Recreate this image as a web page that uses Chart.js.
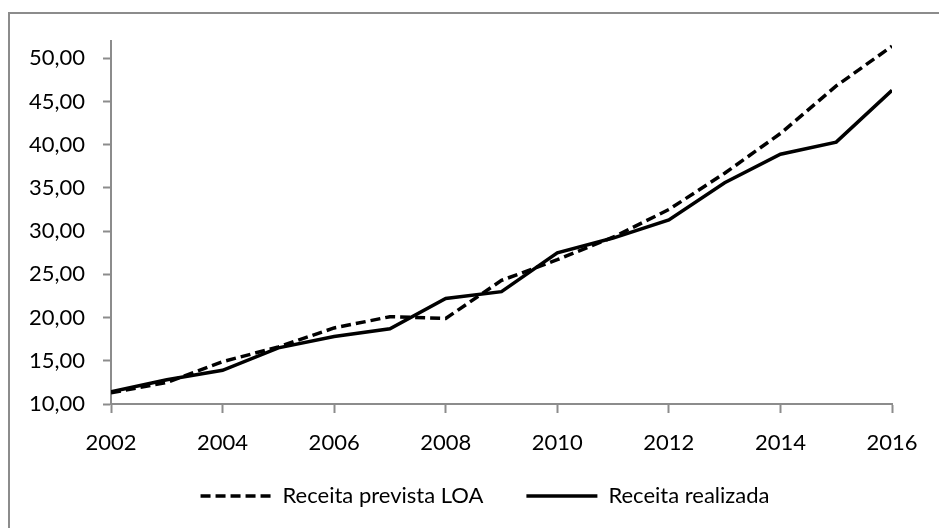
<!DOCTYPE html>
<html lang="pt-br">
<head>
    <meta charset="UTF-8">
    <title>Receita prevista x realizada</title>
    <script src="https://cdn.jsdelivr.net/npm/chart.js"></script>
    <style>
        body {
            margin: 0;
            background: #fff;
        }
        .frame {
            position: absolute;
            left: 8px;
            top: 12px;
            width: 929px;
            height: 516px;
            border-left: 2px solid #8c8c8c;
            border-top: 2px solid #8c8c8c;
        }
        .frame canvas {
            display: block;
        }
    </style>
</head>
<body>
    <div class="frame">
        <canvas id="chart" width="929" height="514"></canvas>
    </div>

    <script>
        // Anos e valores
        const anos = [2002, 2003, 2004, 2005, 2006, 2007, 2008, 2009, 2010, 2011, 2012, 2013, 2014, 2015, 2016];
        const receitaPrevista = [11.3, 12.5, 14.9, 16.6, 18.8, 20.1, 19.9, 24.3, 26.7, 29.3, 32.5, 36.7, 41.3, 46.8, 51.4];
        const receitaRealizada = [11.4, 12.8, 13.9, 16.5, 17.8, 18.7, 22.2, 23.0, 27.5, 29.2, 31.3, 35.6, 38.9, 40.3, 46.3];
        const yTicks = [10, 15, 20, 25, 30, 35, 40, 45, 50];

        const eixoCor = "#8c8c8c";
        const fonte = { family: "Lato", size: 22 };

        const pontos = serie => anos.map((ano, i) => ({ x: ano, y: serie[i] }));

        // desloca a legenda para ficar como no original (mais à direita e mais perto do eixo)
        const ajusteLegenda = {
            id: "ajusteLegenda",
            afterLayout(chart) {
                const lg = chart.legend;
                lg.left += 34;
                lg.right += 34;
                lg.top -= 15;
                lg.bottom -= 15;
            }
        };

        new Chart(document.getElementById("chart"), {
            type: "line",
            data: {
                datasets: [
                    {
                        label: "Receita prevista LOA",
                        data: pontos(receitaPrevista),
                        borderColor: "#000",
                        backgroundColor: "#000",
                        borderWidth: 3.5,
                        borderDash: [10, 5],
                        pointRadius: 0,
                        tension: 0
                    },
                    {
                        label: "Receita realizada",
                        data: pontos(receitaRealizada),
                        borderColor: "#000",
                        backgroundColor: "#000",
                        borderWidth: 3.5,
                        pointRadius: 0,
                        tension: 0
                    }
                ]
            },
            plugins: [ajusteLegenda],
            options: {
                responsive: false,
                animation: false,
                layout: {
                    padding: { left: 0, right: 47, top: 27, bottom: 1 }
                },
                plugins: {
                    tooltip: { enabled: false },
                    legend: {
                        position: "bottom",
                        maxHeight: 70,
                        labels: {
                            color: "#000",
                            font: fonte,
                            usePointStyle: true,
                            pointStyle: "line",
                            pointStyleWidth: 71,
                            padding: 43,
                            // a amostra da legenda precisa do tracejado da série
                            generateLabels: chart => {
                                const itens = Chart.defaults.plugins.legend.labels.generateLabels(chart);
                                itens.forEach(item => {
                                    const ds = chart.data.datasets[item.datasetIndex];
                                    item.lineDash = ds.borderDash || [];
                                    item.lineWidth = ds.borderWidth;
                                    item.strokeStyle = ds.borderColor;
                                    item.pointStyle = "line";
                                });
                                return itens;
                            }
                        }
                    }
                },
                scales: {
                    x: {
                        type: "linear",
                        min: 2002,
                        max: 2016,
                        ticks: {
                            stepSize: 2,
                            color: "#000",
                            font: fonte,
                            padding: 17,
                            maxRotation: 0,
                            callback: v => String(v)
                        },
                        grid: {
                            drawOnChartArea: false,
                            tickLength: 9,
                            tickWidth: 2,
                            tickColor: eixoCor
                        },
                        border: { color: eixoCor, width: 2 },
                        afterFit: scale => { scale.height = 53; }
                    },
                    y: {
                        min: 10,
                        max: 52,
                        afterBuildTicks: scale => {
                            scale.ticks = yTicks.map(v => ({ value: v }));
                        },
                        ticks: {
                            color: "#000",
                            font: fonte,
                            padding: 18,
                            callback: v => v.toFixed(2).replace(".", ",")
                        },
                        grid: {
                            drawOnChartArea: false,
                            tickLength: 8,
                            tickWidth: 2,
                            tickColor: eixoCor
                        },
                        border: { color: eixoCor, width: 2 },
                        afterFit: scale => {
                            scale.width = 101;
                            scale.paddingTop = 0;
                            scale.paddingBottom = 0;
                        }
                    }
                }
            }
        });
    </script>
</body>
</html>
